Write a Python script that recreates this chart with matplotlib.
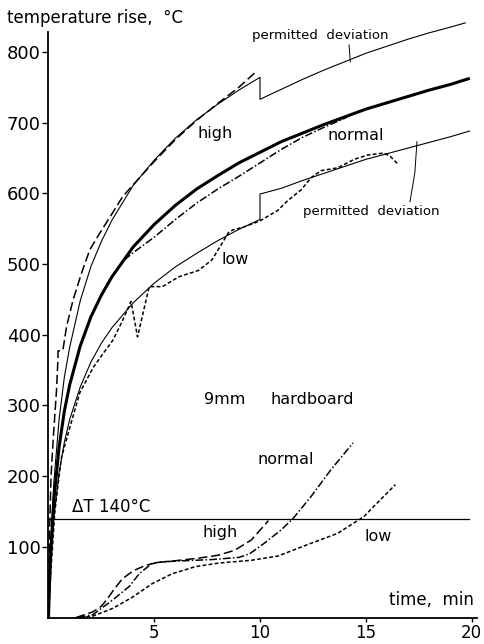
import matplotlib
matplotlib.use("Agg")
import matplotlib.pyplot as plt

# standard curve (thick, "normal" test furnace target)
t_std = [0, 0.05, 0.1, 0.25, 0.5, 0.75, 1, 1.5, 2, 2.5, 3, 4, 5, 6, 7, 8, 9, 10,
         11, 12, 13, 14, 15, 16, 17, 18, 19, 19.85]
T_std = [0, 50, 88, 165, 241, 292, 329, 384, 425, 456, 482, 524, 556, 583, 606, 625, 643, 658,
         673, 685, 697, 708, 719, 728, 737, 746, 754, 762]

# upper permitted deviation
t_up = [0, 0.1, 0.25, 0.5, 0.75, 1, 1.5, 2, 2.5, 3, 4, 5, 6, 7, 8, 9, 10,
        10, 11, 12, 13, 14, 15, 16, 17, 18, 19, 19.7]
T_up = [0, 100, 190, 280, 340, 382, 448, 496, 532, 562, 611, 647, 678, 704, 726, 746, 764,
        733, 747, 761, 774, 786, 798, 808, 818, 827, 835, 841]

# lower permitted deviation
t_lo = [0, 0.1, 0.25, 0.5, 0.75, 1, 1.5, 2, 2.5, 3, 4, 5, 6, 7, 8, 9, 10,
        10, 11, 12, 13, 14, 15, 16, 17, 18, 19, 19.9]
T_lo = [0, 75, 140, 205, 248, 280, 326, 361, 388, 410, 445, 473, 496, 515, 533, 549, 563,
        599, 607, 618, 628, 638, 648, 656, 664, 672, 680, 688]

# furnace temperature, high / normal / low
t_high = [0, 0.05, 0.12, 0.22, 0.38, 0.45, 0.45, 0.68, 0.85, 1.16, 1.56, 1.95, 2.41, 2.96,
          3.5, 4, 5, 6, 7, 8, 9, 9.85]
T_high = [0, 120, 200, 251, 322, 368, 377, 378, 411, 449, 487, 520, 543, 569,
          595, 612, 645, 676, 703, 727, 750, 773]

t_norm = [0, 0.05, 0.1, 0.25, 0.5, 0.75, 1, 1.5, 2, 2.5, 3, 3.6, 4, 4.5, 5, 6, 7, 8, 9, 10,
          11, 12, 13, 14, 14.4]
T_norm = [0, 50, 88, 165, 241, 292, 329, 384, 425, 456, 482, 506, 516, 527, 538, 563, 586, 606, 624, 643,
          662, 679, 693, 706, 713]

t_low = [0, 0.1, 0.3, 0.5, 0.62, 1.0, 1.48, 2.1, 2.5, 3.04, 3.5, 3.9, 4.21, 4.76, 5.38, 6.17,
         7.1, 7.73, 8.2, 8.5, 8.7, 9.3, 10, 10.85, 11.32, 11.95, 12.41, 12.88, 13.67, 14.45,
         15.07, 15.86, 16.17, 16.56]
T_low = [0, 60, 150, 200, 227, 268, 318, 353, 370, 392, 420, 447, 397, 468, 468, 482,
         491, 506, 529, 544, 548, 553, 561, 576, 590, 605, 622, 632, 636, 648,
         654, 657, 652, 640]

# unexposed side temperature rise
t_high_b = [1.3, 2.1, 2.5, 2.8, 3.1, 3.5, 4.0, 4.6, 5.2, 6.2, 7.1, 8.0, 8.8, 9.6, 10.4]
T_high_b = [0, 8, 16, 27, 40, 55, 66, 74, 78, 81, 84, 88, 95, 110, 137]

t_norm_b = [1.4, 2.1, 3.04, 3.82, 4.29, 4.91, 5.5, 6.17, 7.73, 9.0, 9.5, 10.2, 11.0, 11.56,
            12.41, 13.35, 14.4]
T_norm_b = [0, 4, 25, 44, 62, 77, 79, 80, 82, 85, 90, 105, 124, 140,
            171, 209, 247]

t_low_b = [1.5, 2.1, 3.04, 3.98, 4.91, 5.85, 6.95, 8.04, 9.6, 10.85, 12.41, 13.67, 14.92,
           15.54, 16.4]
T_low_b = [0, 2, 13, 29, 48, 62, 72, 77, 81, 87, 105, 119, 143, 162, 188]

limit_x = [0, 19.9]
limit_T = [140, 140]

x_ticks = [5, 10, 15, 20]
y_ticks = [100, 200, 300, 400, 500, 600, 700, 800]

long_dash = (0, (6, 2.5))
dash_dot = (0, (5, 1.5, 1, 1.5))
short_dash = (0, (2.5, 1.5))

fig = plt.figure(figsize=(4.84, 6.44), dpi=100)
ax = fig.add_axes([0.1002, 0.0411, 0.8915, 0.9332])

ax.plot(t_std, T_std, color="black", lw=2.2)
ax.plot(t_up, T_up, color="black", lw=0.8)
ax.plot(t_lo, T_lo, color="black", lw=0.8)
ax.plot(t_high, T_high, color="black", lw=1.1, linestyle=long_dash)
ax.plot(t_norm, T_norm, color="black", lw=1.1, linestyle=dash_dot)
ax.plot(t_low, T_low, color="black", lw=1.1, linestyle=short_dash)

ax.plot(limit_x, limit_T, color="black", lw=0.9)
ax.plot(t_high_b, T_high_b, color="black", lw=1.1, linestyle=long_dash)
ax.plot(t_norm_b, T_norm_b, color="black", lw=1.1, linestyle=dash_dot)
ax.plot(t_low_b, T_low_b, color="black", lw=1.1, linestyle=short_dash)

# leader lines for the deviation labels
ax.plot([14.21, 14.27], [810, 786], color="black", lw=0.7)
ax.plot([17.42, 17.32, 17.09], [673, 629, 588], color="black", lw=0.7)

ax.set_xlim(0, 20.4)
ax.set_ylim(0, 850)
ax.spines["top"].set_visible(False)
ax.spines["right"].set_visible(False)
ax.spines["left"].set_bounds(0, 828)
ax.spines["bottom"].set_bounds(0, 20.25)
ax.spines["left"].set_linewidth(1.3)
ax.spines["bottom"].set_linewidth(1.3)
ax.set_xticks(x_ticks)
ax.set_yticks(y_ticks)
ax.tick_params(axis="y", direction="out", length=4.5, width=1, labelsize=13, pad=1)
ax.tick_params(axis="x", direction="out", length=3, width=1, labelsize=12, pad=2)

lbl = dict(color="black", ha="center", va="center", fontsize=11.5)
ax.text(7.9, 685, "high", **lbl)
ax.text(14.51, 682, "normal", **lbl)
ax.text(8.84, 506, "low", **lbl)
ax.text(12.87, 823, "permitted  deviation", color="black", ha="center", va="center", fontsize=9.5)
ax.text(15.26, 574, "permitted  deviation", color="black", ha="center", va="center", fontsize=9.5)
ax.text(8.32, 308, "9mm", **lbl)
ax.text(12.49, 308, "hardboard", **lbl)
ax.text(11.23, 223, "normal", **lbl)
ax.text(8.13, 120, "high", **lbl)
ax.text(15.59, 114, "low", **lbl)
ax.text(1.1, 143, "ΔT 140°C", color="black", ha="left", va="bottom", fontsize=12)
ax.text(20.1, 25, "time,  min", color="black", ha="right", va="center", fontsize=12)

fig.text(7 / 484, 1 - 18 / 644, "temperature rise,  °C", ha="left", va="center", fontsize=12)

fig.savefig("out.png", dpi=100)
